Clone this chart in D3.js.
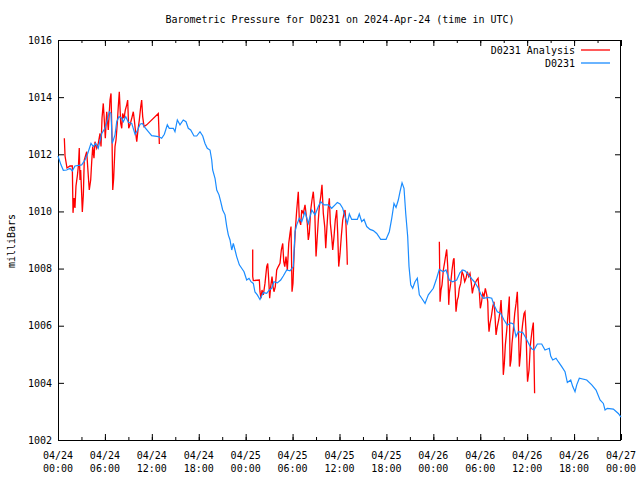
<!DOCTYPE html>
<html>
<head>
<meta charset="utf-8">
<script src="https://cdn.jsdelivr.net/npm/d3@7"></script>
<style>
  html, body { margin: 0; padding: 0; background: #ffffff; }
  svg { display: block; }
  text { font-family: "DejaVu Sans Mono", "Liberation Mono", monospace; font-size: 10px; fill: #000; }
</style>
</head>
<body>
<svg id="chart" width="640" height="480"></svg>
<script>
// ---------------- DATA ----------------
// time = hours since 2024-04-24 00:00 UTC, value = milliBars
const chartTitle = "Barometric Pressure for D0231 on 2024-Apr-24 (time in UTC)";
const yLabel = "milliBars";
const seriesNames = ["D0231 Analysis", "D0231"];
const yTicks = [1002, 1004, 1006, 1008, 1010, 1012, 1014, 1016];

const stationHours = [0.0,0.38,0.68,1.11,1.53,1.83,2.17,3.03,3.45,3.8,4.22,4.51,4.82,5.15,5.59,6.01,6.36,6.56,6.78,6.94,7.29,7.51,7.8,8.15,8.35,8.66,8.99,9.43,9.85,10.19,10.49,10.78,11.13,11.55,11.98,12.83,13.26,13.6,13.98,14.23,14.75,14.96,15.26,15.6,16.02,16.37,16.66,16.97,17.39,17.74,18.16,18.51,18.8,19.09,19.44,19.66,19.78,20.08,20.3,20.59,20.81,21.06,21.36,21.58,21.78,22.0,22.22,22.42,22.64,22.85,23.19,23.49,23.79,24.13,24.43,24.68,24.98,25.19,25.49,25.83,26.26,26.69,27.02,27.33,27.62,28.05,28.48,28.81,29.25,29.67,30.09,30.31,30.53,30.86,31.17,31.59,32.01,32.45,32.87,33.29,33.6,34.02,34.57,35.0,35.43,35.72,36.07,36.41,36.71,37.0,37.26,37.56,38.28,38.53,38.84,39.14,39.48,39.9,40.32,40.76,41.27,41.95,42.37,42.68,42.97,43.23,43.52,43.74,44.0,44.25,44.47,44.72,44.89,45.11,45.36,45.66,45.95,46.21,46.51,46.94,47.36,48.0,48.43,48.76,49.28,49.62,50.04,50.48,50.99,51.41,51.76,52.05,52.35,52.69,53.04,53.33,53.75,54.06,54.39,55.03,55.47,55.76,56.18,56.62,57.04,57.46,57.9,58.23,58.57,58.87,59.43,59.85,60.28,60.58,60.88,61.3,61.86,62.28,62.83,63.01,63.27,63.69,63.98,64.42,64.84,65.14,65.57,65.83,66.12,66.34,66.67,67.62,68.26,68.81,69.32,69.74,69.96,70.25,71.02,71.66,72.0];
const stationValues = [1011.94,1011.63,1011.44,1011.45,1011.51,1011.42,1011.59,1011.63,1011.8,1012.03,1012.38,1012.27,1012.38,1012.21,1012.73,1012.91,1013.26,1013.49,1013.43,1012.38,1012.68,1013.14,1013.32,1013.26,1013.14,1013.32,1013.12,1013.08,1012.7,1012.85,1013.05,1013.08,1012.93,1012.79,1012.65,1012.62,1012.56,1012.7,1013.03,1012.91,1012.91,1012.79,1013.2,1013.03,1013.2,1013.14,1012.91,1012.85,1012.64,1012.64,1012.79,1012.64,1012.38,1012.21,1012.15,1011.8,1011.45,1011.16,1010.75,1010.58,1010.34,1010.05,1009.88,1009.47,1009.18,1009.0,1008.65,1008.88,1008.65,1008.42,1008.13,1008.01,1007.89,1007.6,1007.66,1007.54,1007.48,1007.18,1007.08,1006.92,1007.16,1007.13,1007.25,1007.31,1007.54,1007.5,1007.6,1007.74,1007.95,1007.92,1008.07,1009.29,1009.53,1009.76,1009.64,1009.99,1009.58,1010.05,1009.88,1010.17,1010.34,1010.23,1010.23,1010.11,1010.23,1010.31,1010.26,1010.11,1009.82,1009.58,1009.91,1009.72,1009.72,1009.91,1009.64,1009.72,1009.47,1009.37,1009.33,1009.23,1009.02,1009.02,1009.29,1009.76,1010.28,1010.14,1010.4,1010.69,1011.0,1010.81,1009.93,1009.12,1008.07,1007.43,1007.31,1007.54,1007.66,1007.08,1006.96,1006.78,1007.08,1007.31,1007.66,1007.97,1007.89,1007.95,1007.6,1007.54,1007.6,1007.86,1007.95,1007.92,1007.83,1007.72,1007.6,1007.51,1007.31,1007.11,1006.96,1006.99,1006.96,1006.72,1006.49,1006.43,1006.2,1006.02,1006.1,1006.06,1005.62,1005.79,1005.76,1005.56,1005.33,1005.19,1005.15,1005.36,1005.36,1005.15,1005.21,1004.94,1004.8,1004.86,1004.74,1004.57,1004.39,1004.01,1004.1,1003.87,1003.69,1003.93,1004.16,1004.1,1003.93,1003.75,1003.4,1003.28,1003.05,1003.11,1003.08,1002.93,1002.8];

// Analysis: NaN marks a gap between runs
const analysisHours = [0.81,0.9,1.15,1.53,1.83,1.92,2.05,2.17,2.3,2.49,2.62,2.72,2.81,2.9,3.03,3.11,3.24,3.36,3.67,3.88,4.0,4.18,4.31,4.44,4.6,4.73,4.95,5.15,5.37,5.5,5.63,5.79,5.92,6.05,6.23,6.43,6.65,6.78,6.91,7.0,7.12,7.29,7.42,7.58,7.71,7.84,8.02,8.15,8.27,8.44,8.61,8.79,8.91,9.04,9.21,9.43,9.63,9.76,9.94,10.07,10.23,10.4,10.58,10.7,10.83,11.0,11.34,12.83,12.92,12.96,
  NaN,
  24.9,24.9,24.98,25.75,25.83,25.96,26.09,26.26,26.47,26.69,26.82,26.95,27.07,27.2,27.37,27.5,27.62,27.79,27.97,28.17,28.39,28.56,28.74,28.87,29.0,29.16,29.33,29.51,29.67,29.8,29.93,30.05,30.18,30.35,30.53,30.73,30.86,31.04,31.17,31.37,31.59,31.72,31.88,32.01,32.14,32.32,32.48,32.65,32.83,33.0,33.12,33.29,33.42,33.6,33.76,33.93,34.11,34.24,34.37,34.53,34.7,34.83,35.0,35.13,35.3,35.46,35.64,35.77,35.9,36.07,36.23,36.41,36.58,36.71,36.83,36.96,37.0,
  NaN,
  48.77,48.86,48.98,49.11,49.28,49.46,49.62,49.71,49.84,49.97,50.04,50.22,50.39,50.56,50.65,50.77,50.9,51.07,51.2,51.32,51.5,51.67,51.84,52.01,52.18,52.35,52.53,52.69,52.86,52.99,53.11,53.33,53.55,53.72,53.88,54.01,54.14,54.32,54.48,54.65,54.83,54.96,55.03,55.12,55.25,55.42,55.6,55.76,55.89,56.02,56.18,56.36,56.53,56.66,56.78,56.95,57.08,57.21,57.39,57.59,57.72,57.81,57.94,58.06,58.23,58.41,58.58,58.74,58.87,59.0,59.13,59.25,59.43,59.6,59.72,59.85,59.98,60.05,60.24,60.41,60.63,60.79,60.88,60.95];
const analysisValues = [1012.56,1011.94,1011.52,1011.59,1011.59,1009.95,1010.47,1010.12,1010.89,1011.28,1011.63,1012.22,1011.1,1011.45,1010.58,1009.98,1010.58,1011.8,1012.09,1011.22,1010.75,1011.1,1011.74,1012.27,1011.86,1012.44,1012.21,1012.38,1012.73,1012.27,1013.26,1013.78,1013.2,1012.56,1013.49,1012.85,1013.9,1014.13,1012.5,1010.75,1011.16,1012.27,1012.5,1013.08,1013.67,1014.19,1013.08,1012.91,1013.43,1013.26,1013.55,1013.73,1013.9,1012.91,1013.03,1013.26,1013.49,1013.2,1012.73,1012.44,1012.85,1013.2,1013.67,1013.9,1013.32,1012.97,1013.03,1013.43,1012.73,1012.36,
  NaN,
  1008.67,1007.72,1007.58,1007.6,1007.19,1006.96,1007.25,1007.08,1007.48,1008.07,1008.18,1007.6,1006.96,1007.37,1007.72,1007.37,1007.19,1007.37,1007.95,1008.07,1008.18,1008.65,1008.88,1008.24,1008.07,1008.42,1007.95,1008.88,1009.23,1009.47,1007.19,1007.48,1008.42,1009.35,1010.05,1010.69,1009.7,1009.53,1010.05,1009.93,1010.23,1009.93,1009.58,1009.0,1009.23,1010.05,1010.4,1010.69,1010.05,1008.42,1008.94,1009.7,1010.17,1010.52,1010.93,1009.93,1009.47,1008.71,1009.35,1010.05,1010.46,1009.58,1009.12,1008.65,1009.12,1009.7,1010.05,1009.23,1008.07,1008.53,1009.12,1009.7,1009.93,1010.05,1009.53,1008.59,1008.13,
  NaN,
  1008.94,1006.84,1007.25,1007.43,1007.95,1008.24,1008.53,1008.67,1008.07,1006.73,1007.13,1007.48,1007.95,1008.3,1008.36,1007.43,1006.49,1006.9,1007.02,1007.31,1007.48,1007.89,1007.78,1007.54,1007.66,1007.89,1007.72,1007.83,1007.48,1007.13,1007.31,1007.48,1007.6,1007.66,1007.19,1006.61,1006.78,1007.13,1007.02,1007.31,1007.08,1006.84,1006.2,1005.79,1006.08,1006.32,1006.67,1006.84,1006.32,1005.68,1005.97,1006.2,1006.49,1006.9,1006.2,1004.28,1004.68,1005.33,1005.85,1006.55,1007.02,1004.57,1004.8,1005.38,1005.85,1006.43,1006.78,1007.19,1006.08,1004.57,1004.98,1005.62,1006.08,1006.43,1006.49,1005.85,1004.57,1004.04,1004.45,1005.33,1005.85,1006.11,1004.8,1003.64];

// ---------------- CHART ----------------
const start = Date.UTC(2024, 3, 24, 0, 0);
const toDate = h => new Date(start + h * 3600e3);
const M = { left: 58, right: 621, top: 40, bottom: 440 };
const svg = d3.select("#chart");

const x = d3.scaleUtc().domain([toDate(0), toDate(72)]).range([M.left, M.right]);
const y = d3.scaleLinear().domain([1002, 1016]).range([M.bottom, M.top]);

// title
svg.append("text").attr("x", 340).attr("y", 23).attr("text-anchor", "middle").text(chartTitle);

// y label
svg.append("text").attr("transform", "translate(15,241) rotate(-90)")
  .attr("text-anchor", "middle").text(yLabel);

const majorT = d3.utcHour.every(6).range(toDate(0), toDate(72.01));
const minorT = d3.utcHour.every(3).range(toDate(0), toDate(72.01));

function styleAxis(g) { g.select(".domain").remove(); g.selectAll("line").attr("stroke", "#000"); }

// bottom ticks
svg.append("g").attr("transform", `translate(0,${M.bottom})`)
  .call(d3.axisBottom(x).tickValues(minorT).tickSize(-3).tickFormat("")).call(styleAxis);
svg.append("g").attr("transform", `translate(0,${M.bottom})`)
  .call(d3.axisBottom(x).tickValues(majorT).tickSize(-6).tickFormat("")).call(styleAxis);
// top ticks
svg.append("g").attr("transform", `translate(0,${M.top})`)
  .call(d3.axisTop(x).tickValues(minorT).tickSize(-3).tickFormat("")).call(styleAxis);
svg.append("g").attr("transform", `translate(0,${M.top})`)
  .call(d3.axisTop(x).tickValues(majorT).tickSize(-6).tickFormat("")).call(styleAxis);

// x labels two lines
const fDay = d3.utcFormat("%m/%d"), fTime = d3.utcFormat("%H:%M");
const xl = svg.append("g");
majorT.forEach(t => {
  const tx = xl.append("text").attr("x", x(t)).attr("text-anchor", "middle");
  tx.append("tspan").attr("x", x(t)).attr("y", 459).text(fDay(t));
  tx.append("tspan").attr("x", x(t)).attr("y", 472).text(fTime(t));
});

// y axes
const yl = svg.append("g").attr("transform", `translate(${M.left},0)`)
  .call(d3.axisLeft(y).tickValues(yTicks).tickSize(-6).tickPadding(6).tickFormat(d3.format("d")))
  .call(styleAxis);
yl.selectAll("text").attr("font-family", null).attr("font-size", null).attr("fill", "#000");
svg.append("g").attr("transform", `translate(${M.right},0)`)
  .call(d3.axisRight(y).tickValues(yTicks).tickSize(-6).tickFormat("")).call(styleAxis);

// border
svg.append("rect").attr("x", M.left + 0.5).attr("y", M.top + 0.5)
  .attr("width", M.right - M.left - 1).attr("height", M.bottom - M.top)
  .attr("fill", "none").attr("stroke", "#000").attr("stroke-width", 1);

// lines
const line = d3.line().defined(d => !isNaN(d[0]) && !isNaN(d[1]))
  .x(d => x(toDate(d[0]))).y(d => y(d[1]));
const analysisData = analysisHours.map((h, i) => [h, analysisValues[i]]);
const stationData = stationHours.map((h, i) => [h, stationValues[i]]);

svg.append("path").datum(analysisData).attr("d", line)
  .attr("fill", "none").attr("stroke", "#ff0000").attr("stroke-width", 1.3);
svg.append("path").datum(stationData).attr("d", line)
  .attr("fill", "none").attr("stroke", "#1a8cff").attr("stroke-width", 1.2);

// legend
const legendColors = ["#ff0000", "#1a8cff"];
seriesNames.forEach((name, i) => {
  const cy = 50 + i * 13;
  svg.append("text").attr("x", 575).attr("y", cy + 3.5).attr("text-anchor", "end").text(name);
  svg.append("line").attr("x1", 581).attr("x2", 610).attr("y1", cy).attr("y2", cy)
    .attr("stroke", legendColors[i]).attr("stroke-width", 1.3);
});
</script>
</body>
</html>
